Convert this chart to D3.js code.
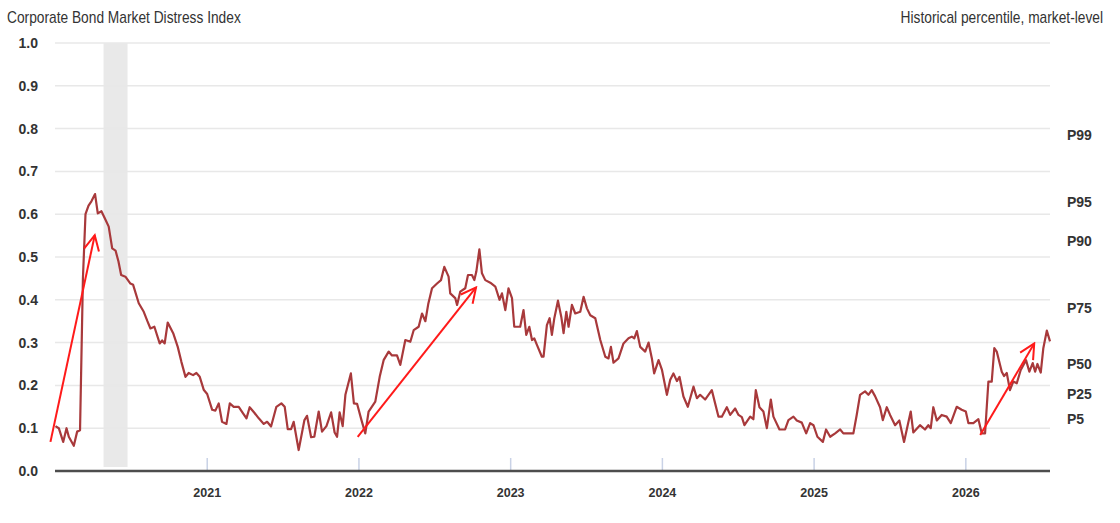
<!DOCTYPE html>
<html>
<head>
    <meta charset="utf-8">
    <title>Corporate Bond Market Distress Index</title>
    <script src="https://d3js.org/d3.v7.min.js"></script>
    <style>
        body {
            margin: 0;
            background: #fff;
        }

        svg {
            font-family: "Liberation Sans", Arial, sans-serif;
        }

        .grid line {
            stroke: #e8e8e8;
            stroke-width: 1.5px;
        }

        .tick-label {
            font-size: 14px;
            font-weight: bold;
            fill: #333;
        }

        .pct-label {
            font-size: 14px;
            font-weight: bold;
            fill: #333;
        }

        .title {
            font-size: 16px;
            fill: #333;
        }
    </style>
</head>
<body>
    <div id="chart"></div>

    <script>
        // time in decimal years, value = distress index
        const years = [
            2020.003, 2020.025, 2020.054, 2020.076, 2020.091, 2020.124, 2020.146, 2020.165, 2020.184, 2020.201,
            2020.221, 2020.240, 2020.264, 2020.282, 2020.306, 2020.329, 2020.354, 2020.377, 2020.399, 2020.418,
            2020.436, 2020.464, 2020.497, 2020.515, 2020.552, 2020.585, 2020.609, 2020.629, 2020.655, 2020.690,
            2020.706, 2020.723, 2020.743, 2020.779, 2020.809, 2020.833, 2020.860, 2020.881, 2020.910, 2020.932,
            2020.954, 2020.980, 2021.003, 2021.036, 2021.057, 2021.079, 2021.101, 2021.130, 2021.152, 2021.178,
            2021.211, 2021.235, 2021.262, 2021.283, 2021.314, 2021.343, 2021.376, 2021.398, 2021.424, 2021.459,
            2021.492, 2021.514, 2021.534, 2021.556, 2021.573, 2021.606, 2021.644, 2021.661, 2021.688, 2021.709,
            2021.738, 2021.760, 2021.789, 2021.820, 2021.843, 2021.859, 2021.876, 2021.896, 2021.914, 2021.950,
            2021.970, 2021.991, 2022.019, 2022.045, 2022.067, 2022.111, 2022.140, 2022.166, 2022.199, 2022.221,
            2022.254, 2022.276, 2022.309, 2022.342, 2022.364, 2022.397, 2022.419, 2022.441, 2022.460, 2022.485,
            2022.518, 2022.544, 2022.566, 2022.594, 2022.605, 2022.638, 2022.650, 2022.671, 2022.704, 2022.722,
            2022.748, 2022.764, 2022.777, 2022.797, 2022.814, 2022.836, 2022.869, 2022.902, 2022.930, 2022.946,
            2022.968, 2022.989, 2023.012, 2023.027, 2023.066, 2023.088, 2023.106, 2023.126, 2023.144, 2023.159,
            2023.177, 2023.209, 2023.220, 2023.242, 2023.260, 2023.275, 2023.291, 2023.315, 2023.337, 2023.352,
            2023.370, 2023.385, 2023.407, 2023.429, 2023.462, 2023.484, 2023.506, 2023.528, 2023.561, 2023.594,
            2023.627, 2023.648, 2023.664, 2023.681, 2023.714, 2023.747, 2023.780, 2023.802, 2023.818, 2023.835,
            2023.857, 2023.890, 2023.912, 2023.934, 2023.949, 2023.978, 2024.000, 2024.033, 2024.055, 2024.076,
            2024.099, 2024.116, 2024.142, 2024.171, 2024.208, 2024.231, 2024.252, 2024.285, 2024.329, 2024.373,
            2024.395, 2024.428, 2024.450, 2024.483, 2024.505, 2024.527, 2024.544, 2024.582, 2024.603, 2024.619,
            2024.643, 2024.669, 2024.692, 2024.718, 2024.735, 2024.775, 2024.812, 2024.834, 2024.867, 2024.889,
            2024.922, 2024.951, 2024.977, 2024.999, 2025.025, 2025.061, 2025.082, 2025.109, 2025.142, 2025.175,
            2025.196, 2025.262, 2025.284, 2025.306, 2025.339, 2025.361, 2025.383, 2025.405, 2025.438, 2025.456,
            2025.482, 2025.504, 2025.537, 2025.565, 2025.596, 2025.640, 2025.657, 2025.701, 2025.734, 2025.756,
            2025.772, 2025.789, 2025.812, 2025.844, 2025.877, 2025.904, 2025.943, 2025.976, 2026.003, 2026.020,
            2026.053, 2026.086, 2026.108, 2026.130, 2026.152, 2026.174, 2026.191, 2026.207, 2026.240, 2026.255,
            2026.273, 2026.294, 2026.316, 2026.339, 2026.365, 2026.400, 2026.422, 2026.444, 2026.460, 2026.475,
            2026.497, 2026.514, 2026.537, 2026.558
        ];

        const distress = [
            0.105, 0.100, 0.068, 0.100, 0.080, 0.059, 0.092, 0.095, 0.450, 0.600,
            0.620, 0.630, 0.647, 0.602, 0.607, 0.590, 0.571, 0.520, 0.515, 0.490,
            0.458, 0.454, 0.438, 0.435, 0.392, 0.372, 0.350, 0.333, 0.337, 0.298,
            0.305, 0.298, 0.347, 0.322, 0.290, 0.255, 0.220, 0.229, 0.224, 0.229,
            0.220, 0.190, 0.180, 0.143, 0.141, 0.158, 0.115, 0.110, 0.158, 0.150,
            0.150, 0.137, 0.123, 0.149, 0.136, 0.123, 0.110, 0.115, 0.104, 0.150,
            0.158, 0.150, 0.098, 0.098, 0.115, 0.049, 0.119, 0.129, 0.079, 0.080,
            0.139, 0.092, 0.105, 0.137, 0.090, 0.080, 0.137, 0.105, 0.178, 0.228,
            0.158, 0.157, 0.120, 0.088, 0.139, 0.162, 0.220, 0.259, 0.279, 0.270,
            0.270, 0.248, 0.306, 0.302, 0.329, 0.337, 0.368, 0.350, 0.390, 0.427,
            0.438, 0.446, 0.477, 0.454, 0.415, 0.404, 0.388, 0.419, 0.427, 0.458,
            0.458, 0.446, 0.466, 0.518, 0.462, 0.446, 0.440, 0.431, 0.400, 0.415,
            0.376, 0.427, 0.404, 0.337, 0.337, 0.376, 0.318, 0.337, 0.306, 0.310,
            0.294, 0.267, 0.267, 0.341, 0.357, 0.318, 0.357, 0.398, 0.360, 0.322,
            0.372, 0.337, 0.388, 0.368, 0.372, 0.407, 0.380, 0.364, 0.357, 0.306,
            0.267, 0.263, 0.290, 0.253, 0.263, 0.298, 0.310, 0.314, 0.310, 0.327,
            0.290, 0.279, 0.300, 0.263, 0.228, 0.259, 0.237, 0.178, 0.213, 0.228,
            0.210, 0.220, 0.174, 0.150, 0.197, 0.170, 0.178, 0.167, 0.189, 0.127,
            0.127, 0.149, 0.131, 0.146, 0.131, 0.126, 0.107, 0.127, 0.121, 0.189,
            0.149, 0.139, 0.100, 0.167, 0.127, 0.097, 0.097, 0.119, 0.127, 0.118,
            0.113, 0.088, 0.112, 0.107, 0.080, 0.068, 0.097, 0.080, 0.088, 0.097,
            0.088, 0.088, 0.131, 0.178, 0.186, 0.178, 0.189, 0.175, 0.149, 0.119,
            0.149, 0.131, 0.107, 0.118, 0.068, 0.139, 0.090, 0.107, 0.097, 0.107,
            0.100, 0.149, 0.118, 0.131, 0.127, 0.112, 0.150, 0.143, 0.139, 0.112,
            0.112, 0.121, 0.088, 0.088, 0.209, 0.209, 0.287, 0.279, 0.232, 0.222,
            0.229, 0.189, 0.209, 0.205, 0.236, 0.259, 0.232, 0.252, 0.232, 0.250,
            0.230, 0.287, 0.328, 0.303
        ];

        const yTicks = [0.0, 0.1, 0.2, 0.3, 0.4, 0.5, 0.6, 0.7, 0.8, 0.9, 1.0];
        const xTicks = [2021, 2022, 2023, 2024, 2025, 2026];

        const pctLabels = ["P99", "P95", "P90", "P75", "P50", "P25", "P5"];
        const pctValues = [0.785, 0.629, 0.537, 0.381, 0.250, 0.180, 0.121];

        const shadeStart = 2020.320, shadeEnd = 2020.478;

        // red annotation arrows: [fromYear, fromValue, toYear, toValue]
        const arrows = [
            [2019.970, 0.068, 2020.262, 0.551],
            [2021.995, 0.080, 2022.775, 0.429],
            [2026.098, 0.084, 2026.454, 0.298]
        ];

        const width = 1120, height = 523;
        const margin = { top: 43, right: 70, bottom: 52, left: 55 };

        const x = d3.scaleLinear()
            .domain([2020, 2026.558])
            .range([margin.left, width - margin.right]);

        const y = d3.scaleLinear()
            .domain([0, 1])
            .range([height - margin.bottom, margin.top]);

        const svg = d3.select("#chart").append("svg")
            .attr("width", width)
            .attr("height", height);

        svg.append("defs").append("marker")
            .attr("id", "head")
            .attr("viewBox", "0 0 20 20")
            .attr("refX", 18)
            .attr("refY", 10)
            .attr("markerWidth", 20)
            .attr("markerHeight", 20)
            .attr("markerUnits", "userSpaceOnUse")
            .attr("orient", "auto")
            .append("path")
            .attr("d", "M3,2.5 L18,10 L3,17.5")
            .attr("fill", "none")
            .attr("stroke", "#ff1a1a")
            .attr("stroke-width", 2);

        // shaded period
        svg.append("rect")
            .attr("x", x(shadeStart))
            .attr("width", x(shadeEnd) - x(shadeStart))
            .attr("y", y(1))
            .attr("height", y(0) - y(1) - 4)
            .attr("fill", "#e9e9e9");

        // gridlines
        svg.append("g")
            .attr("class", "grid")
            .selectAll("line")
            .data(yTicks.filter(d => d > 0))
            .enter().append("line")
            .attr("x1", margin.left)
            .attr("x2", width - margin.right)
            .attr("y1", d => y(d))
            .attr("y2", d => y(d));

        // y axis labels
        svg.append("g")
            .attr("transform", `translate(${margin.left},0)`)
            .call(d3.axisLeft(y).tickValues(yTicks).tickFormat(d3.format(".1f")).tickSize(0).tickPadding(17))
            .call(g => g.select(".domain").remove())
            .selectAll("text")
            .attr("class", "tick-label");

        // x axis
        const xAxis = svg.append("g")
            .attr("transform", `translate(0,${y(0)})`)
            .call(d3.axisBottom(x).tickValues(xTicks).tickFormat(d3.format("d")).tickSize(0).tickPadding(17));
        xAxis.select(".domain").remove();
        xAxis.selectAll("text").attr("class", "tick-label").style("font-size", "12.5px");
        xAxis.selectAll(".tick").append("line")
            .attr("y1", 0)
            .attr("y2", -13)
            .attr("stroke", "#c9d2e6")
            .attr("stroke-width", 1.5);

        svg.append("line")
            .attr("x1", margin.left)
            .attr("x2", width - margin.right)
            .attr("y1", y(0))
            .attr("y2", y(0))
            .attr("stroke", "#4d4d4d")
            .attr("stroke-width", 2.5);

        // series
        const line = d3.line()
            .x((d, i) => x(years[i]))
            .y(d => y(d));

        svg.append("path")
            .datum(distress)
            .attr("fill", "none")
            .attr("stroke", "#a8393b")
            .attr("stroke-width", 2.2)
            .attr("stroke-linejoin", "round")
            .attr("d", line);

        // annotation arrows
        svg.append("g")
            .selectAll("line")
            .data(arrows)
            .enter().append("line")
            .attr("x1", d => x(d[0]))
            .attr("y1", d => y(d[1]))
            .attr("x2", d => x(d[2]))
            .attr("y2", d => y(d[3]))
            .attr("stroke", "#ff1a1a")
            .attr("stroke-width", 2)
            .attr("marker-end", "url(#head)");

        // percentile labels
        svg.append("g")
            .selectAll("text")
            .data(pctLabels)
            .enter().append("text")
            .attr("class", "pct-label")
            .attr("x", 1067)
            .attr("y", (d, i) => y(pctValues[i]))
            .attr("dy", "0.35em")
            .text(d => d);

        // titles (narrow look: horizontally squeezed)
        svg.append("text")
            .attr("class", "title")
            .attr("transform", "translate(7,23) scale(0.86,1)")
            .text("Corporate Bond Market Distress Index");

        svg.append("text")
            .attr("class", "title")
            .attr("text-anchor", "end")
            .attr("transform", "translate(1103,23) scale(0.86,1)")
            .text("Historical percentile, market-level");
    </script>
</body>
</html>
